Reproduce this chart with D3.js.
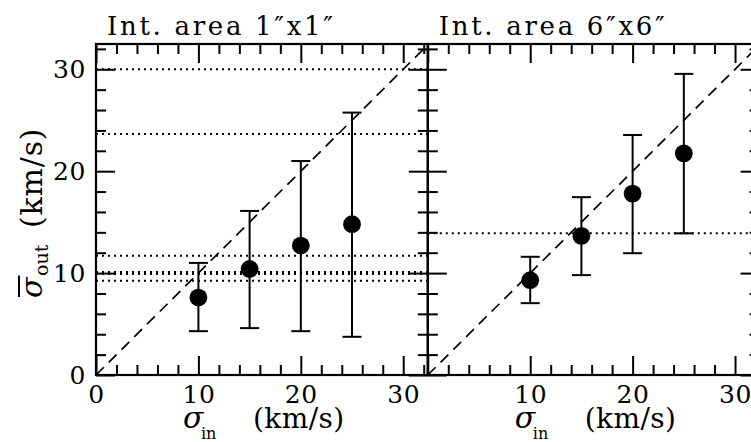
<!DOCTYPE html>
<html><head><meta charset="utf-8">
<script src="https://cdn.jsdelivr.net/npm/d3@7"></script>
<style>
html,body{margin:0;padding:0;background:#fff;}
svg{display:block;}
text{font-family:"DejaVu Serif",serif;fill:#000;}
</style></head><body>
<svg id="chart" width="751" height="442"></svg>
<script>
// input velocity dispersions (km/s)
const sigmaIn = [10, 15, 20, 25];
const titles = ["Int. area 1″x1″", "Int. area 6″x6″"];
// 1"x1" integration area: mean recovered dispersion and its range
const outSmall = [7.6, 10.4, 12.7, 14.8];
const lowSmall = [4.3, 4.6, 4.3, 3.75];
const highSmall = [11.0, 16.1, 21.0, 25.75];
const refSmall = [30.0, 23.65, 11.7, 10.1, 9.9, 9.25];
// 6"x6" integration area
const outLarge = [9.3, 13.65, 17.8, 21.75];
const lowLarge = [7.05, 9.8, 11.95, 13.9];
const highLarge = [11.6, 17.45, 23.55, 29.55];
const refLarge = [13.9];
// tick values
const xTickLabelsLeft = [0, 10, 20, 30];
const xTickLabelsRight = [10, 20, 30];
const yTickLabels = [0, 10, 20, 30];
const majorTicks = [0, 10, 20, 30];
const minorTicks = [2, 4, 6, 8, 12, 14, 16, 18, 22, 24, 26, 28, 32];

const panels = [
  {title: titles[0], out: outSmall, lo: lowSmall, hi: highSmall, refs: refSmall, xLabels: xTickLabelsLeft, yLabels: true},
  {title: titles[1], out: outLarge, lo: lowLarge, hi: highLarge, refs: refLarge, xLabels: xTickLabelsRight, yLabels: false}
];

const svg = d3.select("#chart");
const plotTop = 44, plotBottom = 375, panelW = 331.8, firstLeft = 96;
const xMax = 32.4, yMax = 32.48;
const y = d3.scaleLinear().domain([0, yMax]).range([plotBottom, plotTop]);

const majorLen = 19, minorLen = 10, capHalf = 9.5, dotR = 8.9;

panels.forEach((p, i) => {
  const left = firstLeft + i * panelW;
  const x = d3.scaleLinear().domain([0, xMax]).range([left, left + panelW]);
  const g = svg.append("g");

  // horizontal reference levels
  g.selectAll("line.ref").data(p.refs).join("line")
    .attr("class", "ref")
    .attr("x1", x(0)).attr("x2", x(xMax))
    .attr("y1", d => y(d)).attr("y2", d => y(d))
    .attr("stroke", "#000").attr("stroke-width", 2)
    .attr("stroke-dasharray", "2,4");

  // one-to-one line
  g.append("line")
    .attr("x1", x(0)).attr("y1", y(0))
    .attr("x2", x(xMax)).attr("y2", y(xMax))
    .attr("stroke", "#000").attr("stroke-width", 1.7)
    .attr("stroke-dasharray", "11,7");

  // error bars
  const pts = sigmaIn.map((s, k) => ({s, v: p.out[k], lo: p.lo[k], hi: p.hi[k]}));
  g.selectAll("line.bar").data(pts).join("line")
    .attr("class", "bar")
    .attr("x1", d => x(d.s)).attr("x2", d => x(d.s))
    .attr("y1", d => y(d.lo)).attr("y2", d => y(d.hi))
    .attr("stroke", "#000").attr("stroke-width", 2);
  ["lo", "hi"].forEach(key => {
    g.selectAll("line.cap-" + key).data(pts).join("line")
      .attr("class", "cap-" + key)
      .attr("x1", d => x(d.s) - capHalf).attr("x2", d => x(d.s) + capHalf)
      .attr("y1", d => y(d[key])).attr("y2", d => y(d[key]))
      .attr("stroke", "#000").attr("stroke-width", 2);
  });
  g.selectAll("circle").data(pts).join("circle")
    .attr("cx", d => x(d.s)).attr("cy", d => y(d.v)).attr("r", dotR)
    .attr("fill", "#000");

  // inward ticks on all four sides
  const tickAxis = (axisFn, scale, vals, len, tr) => {
    g.append("g").attr("transform", tr)
      .call(axisFn(scale).tickValues(vals).tickSize(-len).tickSizeOuter(0).tickFormat(() => ""))
      .call(a => a.select(".domain").remove())
      .call(a => a.selectAll("line").attr("stroke", "#000").attr("stroke-width", 2));
  };
  [[majorTicks, majorLen], [minorTicks, minorLen]].forEach(([vals, len]) => {
    tickAxis(d3.axisBottom, x, vals, len, `translate(0,${plotBottom})`);
    tickAxis(d3.axisTop, x, vals, len, `translate(0,${plotTop})`);
    tickAxis(d3.axisLeft, y, vals, len, `translate(${left},0)`);
    tickAxis(d3.axisRight, y, vals, len, `translate(${left + panelW},0)`);
  });

  // frame
  g.append("rect")
    .attr("x", left).attr("y", plotTop)
    .attr("width", panelW).attr("height", plotBottom - plotTop)
    .attr("fill", "none").attr("stroke", "#000").attr("stroke-width", 2.2);

  // tick labels
  const styleLabels = a => a.selectAll("text")
    .attr("font-family", "DejaVu Serif").attr("font-size", 25)
    .attr("letter-spacing", 0.6).attr("fill", "#000");
  g.append("g").attr("transform", `translate(0,${plotBottom})`)
    .call(d3.axisBottom(x).tickValues(p.xLabels).tickSize(0).tickPadding(10.2).tickFormat(d3.format("d")))
    .call(a => a.select(".domain").remove())
    .call(styleLabels);
  if (p.yLabels) {
    g.append("g").attr("transform", `translate(${left},0)`)
      .call(d3.axisLeft(y).tickValues(yTickLabels).tickSize(0).tickPadding(10).tickFormat(d3.format("d")))
      .call(a => a.select(".domain").remove())
      .call(styleLabels);
  }

  // panel title
  g.append("text").attr("x", left + 11).attr("y", 35)
    .attr("font-size", 26)
    .attr("textLength", 226).attr("lengthAdjust", "spacing")
    .text(p.title);

  // x axis label
  const xl = g.append("text").attr("y", 428).attr("font-size", 28);
  xl.append("tspan").attr("x", left + 87).attr("font-style", "italic").attr("font-size", 30).text("σ");
  xl.append("tspan").attr("x", left + 105).attr("font-size", 16).attr("dy", 11).text("in");
  xl.append("tspan").attr("x", left + 157).attr("dy", -11).attr("letter-spacing", 0.4).text("(km/s)");
});

// y axis label with overbar on sigma
const yg = svg.append("g").attr("transform", "translate(41.7,298) rotate(-90)");
const yl = yg.append("text").attr("font-size", 30);
yl.append("tspan").attr("x", 0).attr("font-style", "italic").text("σ");
yl.append("tspan").attr("x", 22).attr("font-size", 19).attr("dy", 6.6).text("out");
yl.append("tspan").attr("x", 70).attr("dy", -6.6).attr("letter-spacing", 0.8).text("(km/s)");
const ext = yl.node().getExtentOfChar(0);
yg.append("line")
  .attr("x1", ext.x + 1).attr("x2", ext.x + ext.width + 2)
  .attr("y1", -22.7).attr("y2", -22.7)
  .attr("stroke", "#000").attr("stroke-width", 2);
</script>
</body></html>
